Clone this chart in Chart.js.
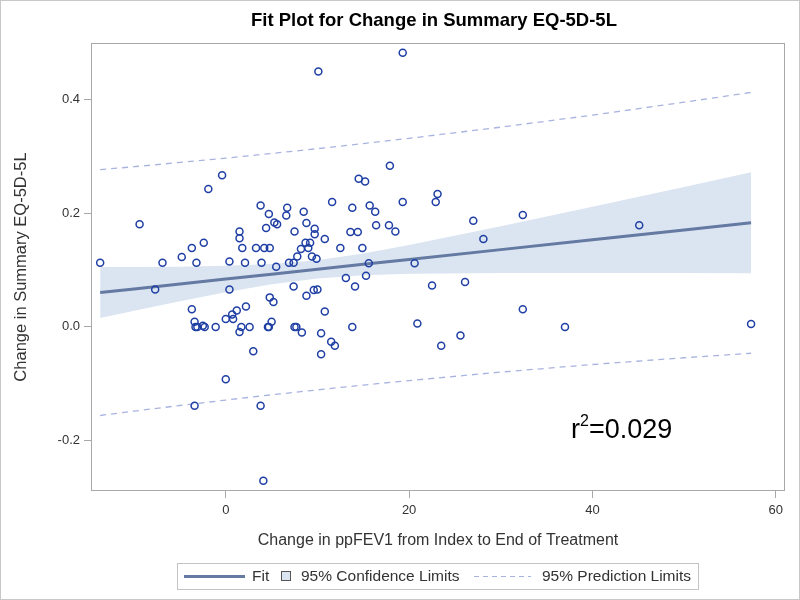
<!DOCTYPE html>
<html>
<head>
<meta charset="utf-8">
<script src="https://cdn.jsdelivr.net/npm/chart.js@4.4.1/dist/chart.umd.min.js"></script>
<style>
  html, body { margin: 0; padding: 0; background: #fff; }
  #wrap { width: 800px; height: 600px; }
</style>
</head>
<body>
<div id="wrap"><canvas id="c" width="800" height="600"></canvas></div>
<script>
// ---- Data ----
const ppfev1 = [10.1, 19.3, -0.4, -1.9, -9.4, 3.8, 6.7, 4.7, 6.6, 8.5, 5.3, 5.6, 8.8, 4.4, 9.7, 1.5, 1.5, 7.5, 9.7, 10.8,
  -2.4, -3.7, -4.8, 1.8, 3.3, 4.2, 4.8, 8.7, 9.2, 8.2, 9.0, 7.8, 9.4, 9.9, -13.7, -6.9, -3.2, 0.4, 2.1, 3.9,
  5.5, 6.9, 7.4, -7.7, 0.4, 7.4, 8.8, 9.6, 10.0, 4.8, 5.2, 10.8, -3.7, 2.2, 1.2, 0.7, 0.0, 0.8, -3.4, 5.0,
  -3.3, -3.1, -2.5, -2.3, -1.1, 1.5, 1.7, 2.6, 4.6, 4.7, 7.5, 7.7, 8.3, 10.4, 10.4, 3.0, 0.0, -3.4, 3.8, 4.1,
  15.6, 20.6, 13.1, 15.3, 14.1, 22.5, 26.1, 13.8, 20.9, 11.5, 11.9, 23.5, 25.6, 32.4, 37.0, 57.3, 45.1, 17.9, 14.5, 15.2,
  11.6, 13.8, 15.7, 16.3, 19.3, 23.1, 22.9, 16.4, 17.8, 18.5, 13.6, 14.4, 12.5, 14.9, 27.0, 28.1, 32.4];
const eq5dChange = [0.450, 0.483, 0.267, 0.243, 0.181, 0.214, 0.210, 0.199, 0.196, 0.203, 0.184, 0.181, 0.183, 0.174, 0.173, 0.168, 0.156, 0.168, 0.163, 0.155,
  0.148, 0.139, 0.123, 0.139, 0.139, 0.139, 0.139, 0.148, 0.148, 0.137, 0.139, 0.124, 0.124, 0.120, 0.113, 0.113, 0.113, 0.115, 0.113, 0.113,
  0.106, 0.113, 0.113, 0.066, 0.066, 0.071, 0.055, 0.065, 0.066, 0.052, 0.044, 0.027, 0.031, 0.036, 0.029, 0.022, 0.014, 0.014, 0.009, 0.009,
  0.000, 0.000, 0.002, 0.000, 0.000, -0.009, 0.000, 0.000, 0.000, 0.000, 0.000, 0.000, -0.010, -0.011, -0.048, -0.043, -0.092, -0.139, -0.139, -0.271,
  0.112, 0.112, 0.086, 0.090, 0.071, 0.073, 0.079, 0.000, 0.006, -0.026, -0.033, -0.033, -0.015, 0.031, 0.000, 0.005, 0.179, 0.284, 0.261, 0.256,
  0.220, 0.210, 0.214, 0.203, 0.220, 0.234, 0.220, 0.179, 0.179, 0.168, 0.167, 0.167, 0.139, 0.139, 0.187, 0.155, 0.197];

// Fit line and limits, read at these x positions
const curveX  = [-13.7, -10, -5, 0, 5, 10, 15, 20, 30, 40, 50, 57.3];
const fitY    = [0.0605, 0.0669, 0.0756, 0.0842, 0.0929, 0.1015, 0.1102, 0.1188, 0.1361, 0.1534, 0.1707, 0.1833];
const clUpper = [0.1053, 0.1055, 0.1061, 0.1075, 0.1107, 0.1176, 0.1293, 0.1441, 0.1771, 0.2117, 0.2466, 0.2723];
const clLower = [0.0157, 0.0283, 0.0451, 0.0609, 0.0751, 0.0854, 0.0911, 0.0935, 0.0951, 0.0951, 0.0948, 0.0943];
const plUpper = [0.2770, 0.2821, 0.2896, 0.2972, 0.3054, 0.3139, 0.3228, 0.3321, 0.3518, 0.3730, 0.3957, 0.4130];
const plLower = [-0.1560, -0.1483, -0.1384, -0.1288, -0.1196, -0.1109, -0.1024, -0.0945, -0.0796, -0.0662, -0.0543, -0.0464];

const xTicks = [0, 20, 40, 60];
const yTicks = [-0.2, 0.0, 0.2, 0.4];

const titleText = 'Fit Plot for Change in Summary EQ-5D-5L';
const xTitle = 'Change in ppFEV1 from Index to End of Treatment';
const yTitle = 'Change in Summary EQ-5D-5L';
const legendLabels = ['Fit', '95% Confidence Limits', '95% Prediction Limits'];
const r2Label = ['r', '2', '=0.029'];

// ---- styles ----
const C_POINT = '#1f3fa4';
const C_FIT = '#647aa2';
const C_BAND = '#dbe4f1';
const C_PRED = '#a9b3e0';
const C_TEXT = '#333333';
const C_FRAME = '#a8a8a8';
const FONT = '"Liberation Sans", Arial, sans-serif';

const pts = ppfev1.map((x, i) => ({ x: x, y: eq5dChange[i] }));
const curve = arr => curveX.map((x, i) => ({ x: x, y: arr[i] }));

const decor = {
  id: 'decor',
  afterDraw(chart) {
    const ctx = chart.ctx;
    const a = chart.chartArea;
    ctx.save();
    // outer border
    ctx.strokeStyle = '#c8c8c8';
    ctx.lineWidth = 1;
    ctx.strokeRect(0.5, 0.5, 799, 599);
    // plot frame
    ctx.strokeStyle = C_FRAME;
    ctx.strokeRect(Math.round(a.left) + 0.5, Math.round(a.top) + 0.5,
      Math.round(a.right - a.left) - 1, Math.round(a.bottom - a.top) - 1);
    // title
    ctx.fillStyle = '#000';
    ctx.font = 'bold 18.5px ' + FONT;
    ctx.textAlign = 'center';
    ctx.textBaseline = 'middle';
    ctx.fillText(titleText, (a.left + a.right) / 2 - 4, 21);

    // r^2 annotation
    ctx.textAlign = 'left';
    ctx.textBaseline = 'alphabetic';
    ctx.fillStyle = '#000';
    let x0 = 571, yb = 438;
    ctx.font = '27px ' + FONT;
    ctx.fillText(r2Label[0], x0, yb);
    x0 += ctx.measureText(r2Label[0]).width;
    ctx.font = '16px ' + FONT;
    ctx.fillText(r2Label[1], x0, yb - 12);
    x0 += ctx.measureText(r2Label[1]).width;
    ctx.font = '27px ' + FONT;
    ctx.fillText(r2Label[2], x0, yb);

    // legend
    const ly = 576.5;
    ctx.strokeStyle = '#c4c4c4';
    ctx.lineWidth = 1;
    ctx.strokeRect(177.5, 563.5, 521, 26);
    ctx.strokeStyle = C_FIT;
    ctx.lineWidth = 3;
    ctx.beginPath(); ctx.moveTo(184, ly); ctx.lineTo(245, ly); ctx.stroke();
    ctx.fillStyle = C_TEXT;
    ctx.font = '15.5px ' + FONT;
    ctx.textBaseline = 'middle';
    ctx.fillText(legendLabels[0], 252, ly);
    ctx.fillStyle = C_BAND;
    ctx.fillRect(281, 571, 10, 10);
    ctx.strokeStyle = '#555';
    ctx.lineWidth = 1;
    ctx.strokeRect(281.5, 571.5, 9, 9);
    ctx.fillStyle = C_TEXT;
    ctx.fillText(legendLabels[1], 301, ly);
    ctx.strokeStyle = C_PRED;
    ctx.lineWidth = 1;
    ctx.setLineDash([5, 4]);
    ctx.beginPath(); ctx.moveTo(474, ly); ctx.lineTo(531, ly); ctx.stroke();
    ctx.setLineDash([]);
    ctx.fillText(legendLabels[2], 542, ly);
    ctx.restore();
  }
};

new Chart(document.getElementById('c'), {
  type: 'scatter',
  data: {
    datasets: [
      { label: 'points', data: pts, showLine: false, pointStyle: 'circle', pointRadius: 3.5,
        pointBorderWidth: 1.5, pointBorderColor: C_POINT, pointBackgroundColor: 'rgba(0,0,0,0)', pointHoverRadius: 3.5 },
      { label: 'Fit', data: curve(fitY), showLine: true, borderColor: C_FIT, borderWidth: 3, pointRadius: 0, fill: false },
      { label: 'PL upper', data: curve(plUpper), showLine: true, borderColor: C_PRED, borderWidth: 1.3, borderDash: [6, 5], pointRadius: 0, fill: false },
      { label: 'PL lower', data: curve(plLower), showLine: true, borderColor: C_PRED, borderWidth: 1.3, borderDash: [6, 5], pointRadius: 0, fill: false },
      { label: 'CL upper', data: curve(clUpper), showLine: true, borderWidth: 0, borderColor: 'rgba(0,0,0,0)', pointRadius: 0, fill: false },
      { label: 'CL lower', data: curve(clLower), showLine: true, borderWidth: 0, borderColor: 'rgba(0,0,0,0)', pointRadius: 0, fill: '-1', backgroundColor: C_BAND }
    ]
  },
  options: {
    responsive: false,
    animation: false,
    devicePixelRatio: 1,
    layout: { padding: { top: 43, right: 15, left: 0, bottom: 0 } },
    plugins: { legend: { display: false }, title: { display: false }, tooltip: { enabled: false } },
    scales: {
      x: {
        type: 'linear', min: -14.7, max: 61,
        afterBuildTicks: s => { s.ticks = xTicks.map(v => ({ value: v })); },
        afterFit: s => { s.height = 109; },
        grid: { drawOnChartArea: false, drawTicks: true, tickLength: 7, color: C_FRAME },
        border: { display: false },
        ticks: { color: C_TEXT, font: { family: FONT, size: 13 }, padding: 5, callback: v => String(v) },
        title: { display: true, text: xTitle, color: C_TEXT, font: { family: FONT, size: 16 }, padding: { top: 0, bottom: 50 } }
      },
      y: {
        type: 'linear', min: -0.289, max: 0.5,
        afterBuildTicks: s => { s.ticks = yTicks.map(v => ({ value: v })); },
        afterFit: s => { s.width = 91; },
        grid: { drawOnChartArea: false, drawTicks: true, tickLength: 7, color: C_FRAME },
        border: { display: false },
        ticks: { color: C_TEXT, font: { family: FONT, size: 13 }, padding: 4, callback: v => Number(v).toFixed(1) },
        title: { display: true, text: yTitle, color: C_TEXT, font: { family: FONT, size: 16.5 }, padding: { top: 12, bottom: 0 } }
      }
    }
  },
  plugins: [decor]
});
</script>
</body>
</html>
